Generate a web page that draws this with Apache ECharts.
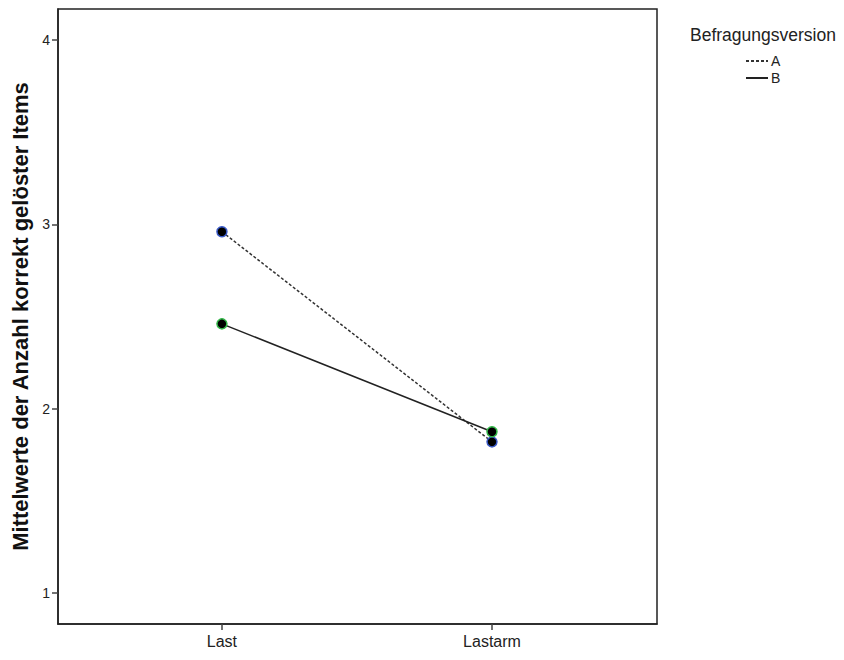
<!DOCTYPE html>
<html>
<head>
<meta charset="utf-8">
<script src="https://cdn.jsdelivr.net/npm/echarts@6/dist/echarts.min.js"></script>
<style>
  html, body { margin: 0; padding: 0; background: #fff; }
  #chart { width: 844px; height: 660px; }
</style>
</head>
<body>
<div id="chart"></div>
<script>
var categories = ['Last', 'Lastarm'];
var yTicks = [1, 2, 3, 4];
var seriesA = [2.96, 1.82];
var seriesB = [2.46, 1.875];

var ink = '#222';
var font = '"Liberation Sans", Arial, sans-serif';

function pts(vals) {
  return vals.map(function (v, i) { return [i, v]; });
}

var chart = echarts.init(document.getElementById('chart'), null, { renderer: 'svg' });
var option = {
  animation: false,
  textStyle: { fontFamily: font },
  title: {
    text: 'Befragungsversion',
    left: 685,
    top: 21,
    textStyle: { fontSize: 17.5, fontWeight: 'normal', color: '#222', fontFamily: font }
  },
  legend: {
    data: ['A', 'B'],
    orient: 'vertical',
    left: 740,
    top: 49,
    itemWidth: 22,
    itemHeight: 10,
    itemGap: 3,
    itemStyle: { opacity: 0 },
    textStyle: { fontSize: 14, color: '#222', padding: [0, 0, 0, -2] }
  },
  grid: {
    left: 58,
    top: 9,
    width: 599,
    height: 615,
    containLabel: false,
    outerBoundsMode: 'none',
    show: true,
    borderColor: ink,
    borderWidth: 1.5
  },
  xAxis: {
    type: 'value',
    min: -0.607,
    max: 1.611,
    splitLine: { show: false },
    axisLine: { show: true, onZero: false, lineStyle: { color: ink, width: 1.5 } },
    axisTick: { show: true, customValues: [0, 1], length: 6, lineStyle: { color: '#444', width: 1.5 } },
    axisLabel: {
      customValues: [0, 1],
      margin: 9,
      fontSize: 16,
      color: '#222',
      formatter: function (v) { return categories[Math.round(v)]; }
    }
  },
  yAxis: {
    type: 'value',
    min: 0.832,
    max: 4.168,
    name: 'Mittelwerte der Anzahl korrekt gelöster Items',
    nameLocation: 'middle',
    nameGap: 27,
    nameTextStyle: { fontSize: 22, fontWeight: 'bold', color: '#111' },
    splitLine: { show: false },
    axisLine: { show: true, onZero: false, lineStyle: { color: ink, width: 1.5 } },
    axisTick: { show: true, customValues: yTicks, length: 6, lineStyle: { color: '#444', width: 1.5 } },
    axisLabel: { customValues: yTicks, margin: 8, fontSize: 14, color: '#222' }
  },
  series: [
    {
      name: 'A',
      type: 'line',
      data: pts(seriesA),
      symbol: 'circle',
      symbolSize: 10,
      lineStyle: { color: '#333', width: 1.5, type: [3, 2] },
      itemStyle: { color: '#000', borderColor: '#3b5bc8', borderWidth: 1.5 },
      z: 3
    },
    {
      name: 'B',
      type: 'line',
      data: pts(seriesB),
      symbol: 'circle',
      symbolSize: 10,
      lineStyle: { color: '#222', width: 1.5, type: 'solid' },
      itemStyle: { color: '#000', borderColor: '#35b84a', borderWidth: 1.5 },
      z: 4
    }
  ]
};
chart.setOption(option);
</script>
</body>
</html>
